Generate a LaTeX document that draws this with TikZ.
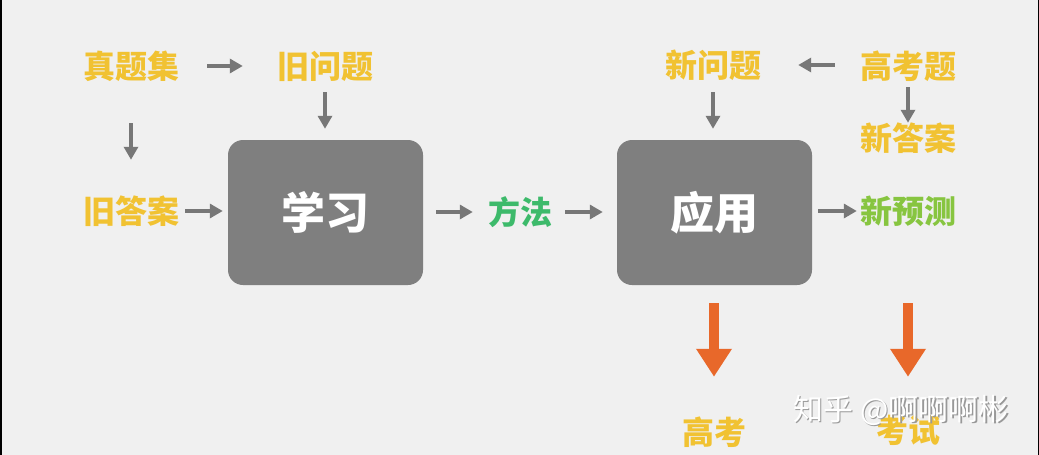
\documentclass[tikz,border=0pt]{standalone}
\usepackage{fontspec}
\newfontfamily\cjk{Noto Sans CJK SC}
\usetikzlibrary{arrows.meta}
\definecolor{bgc}{HTML}{F0F0F0}
\definecolor{boxc}{HTML}{7F7F7F}
\definecolor{arrc}{HTML}{777777}
\definecolor{yel}{HTML}{F1C232}
\definecolor{grn}{HTML}{3DBA6B}
\definecolor{lgrn}{HTML}{87C540}
\definecolor{org}{HTML}{E8682A}
\tikzset{
  lbl/.style={inner sep=0pt, text height=25.6pt, text depth=1.3pt, font=\cjk\bfseries\fontsize{32}{32}\selectfont, text=yel},
  bigbox/.style={fill=boxc, rounded corners=15pt, minimum width=195pt, minimum height=145pt, inner sep=0pt, text=white, font=\cjk\bfseries\fontsize{44}{44}\selectfont},
  garrow/.style={draw=arrc, line width=4pt, -{Triangle[length=13pt, width=14pt]}},
  oarrow/.style={draw=org, line width=10pt, -{Triangle[length=28pt, width=34pt]}},
  wmark/.style={inner sep=0pt, font=\cjk\fontsize{30}{30}\selectfont}
}
\begin{document}
\begin{tikzpicture}[x=1pt, y=-1pt]
\useasboundingbox (0,0) rectangle (1039,455);
\fill[bgc] (0,0) rectangle (1039,455);
\fill[black] (0,0) rectangle (1.5,455);
\fill[black] (1037.5,0) rectangle (1039,455);

% nodes
\node[lbl] (zt) at (131,66) {真题集};
\node[lbl] (jw) at (325,66) {旧问题};
\node[lbl] (jd) at (131,211) {旧答案};
\node[bigbox] (xx) at (325.5,212.5) {学习};
\node[lbl, text=grn] (ff) at (520,212) {方法};
\node[bigbox] (yy) at (714.5,212.5) {应用};
\node[lbl] (xw) at (713,65) {新问题};
\node[lbl] (gk) at (908,66) {高考题};
\node[lbl] (xd) at (908,138) {新答案};
\node[lbl, text=lgrn] (xy) at (908,211) {新预测};
\node[lbl] (gk2) at (714,432) {高考};
\node[lbl] (ks) at (908,430) {考试};

% gray arrows
\draw[garrow, shorten <=28pt, shorten >=34pt] (zt.east) -- (jw.west);
\draw[garrow, shorten <=12.6pt, shorten >=11pt] (jw.south) -- (jw.south |- xx.north);
\draw[garrow, shorten <=43.6pt, shorten >=37.6pt] (zt.south) -- (jd.north);
\draw[garrow, shorten <=6pt, shorten >=5pt] (jd.east) -- (jd.east -| xx.west);
\draw[garrow, shorten <=13pt, shorten >=15pt] (xx.east |- ff.west) -- (ff.west);
\draw[garrow, shorten <=13pt, shorten >=14pt] (ff.east) -- (ff.east -| yy.west);
\draw[garrow, shorten <=13.6pt, shorten >=11pt] (xw.south) -- (xw.south |- yy.north);
\draw[garrow, shorten <=25pt, shorten >=37pt] (gk.west |- xw.east) -- (xw.east);
\draw[garrow, shorten <=7.6pt, shorten >=1.6pt] (gk.south) -- (xd.north);
\draw[garrow, shorten <=6pt, shorten >=3pt] (yy.east |- xy.west) -- (xy.west);

% orange arrows
\draw[oarrow, shorten <=18pt, shorten >=41.6pt] (gk2.north |- yy.south) -- (gk2.north);
\draw[oarrow, shorten <=78.6pt, shorten >=39.6pt] (xy.south) -- (ks.north);

% watermark
\node[wmark, text=gray!80] (wms) at (902.5,411.5) {知乎 @啊啊啊彬};
\node[wmark, text=white] (wm) at (901,410) {知乎 @啊啊啊彬};
\end{tikzpicture}
\end{document}
